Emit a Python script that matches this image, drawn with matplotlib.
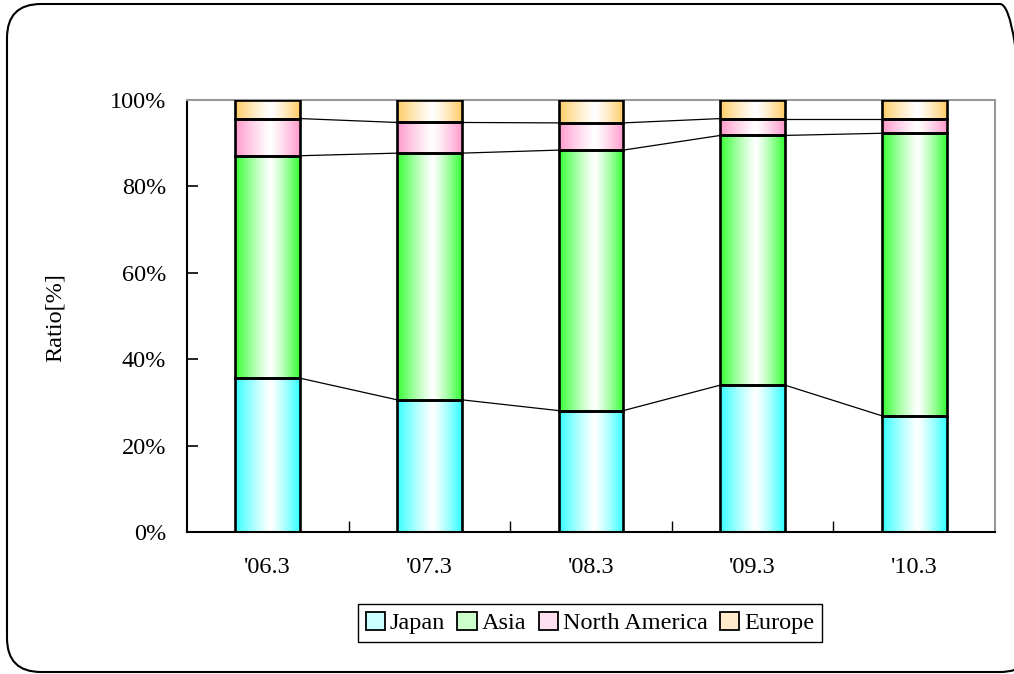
import matplotlib.pyplot as plt
import numpy as np
from matplotlib.patches import Rectangle, FancyBboxPatch
from matplotlib.colors import to_rgb

# --- data (share of sales by region, %)
periods = ["'06.3", "'07.3", "'08.3", "'09.3", "'10.3"]
regions = ["Japan", "Asia", "North America", "Europe"]
japan = [35.6, 30.6, 28.1, 34.0, 26.9]
asia = [51.5, 57.1, 60.3, 57.8, 65.4]
north_america = [8.6, 7.1, 6.3, 3.9, 3.4]
europe = [4.3, 5.2, 5.3, 4.3, 4.3]

colors = ["#33FFFF", "#33FF33", "#FF99CC", "#FFCC66"]
legend_fill = ["#CCFFFF", "#CCFFCC", "#FFE0F0", "#FFEBCC"]

plt.rcParams['font.family'] = ['Liberation Serif', 'DejaVu Serif']
plt.rcParams['font.size'] = 17.5

fig = plt.figure(figsize=(10.14, 6.74), dpi=100)
W, H = 1014, 674

# rounded frame (pixel coords, right edge runs past the image)
frame = FancyBboxPatch((7, 2), 1034 - 7, 671 - 3,
                       boxstyle="round,pad=0,rounding_size=34",
                       transform=None, fill=False,
                       edgecolor='black', linewidth=1.5)
fig.patches.append(frame)

ax = fig.add_axes([187 / W, (H - 532) / H, 808 / W, 432 / H])

series = [japan, asia, north_america, europe]
x = np.arange(len(periods))
bw = 0.40


def gradient_img(c):
    # colour at the edges, white near the middle
    t = np.linspace(0, 1, 200)
    peak = 0.55
    d = np.where(t < peak, (peak - t) / peak, (t - peak) / (1 - peak))
    d = d ** 1.2
    rgb = np.array(to_rgb(c))
    img = 1 - (1 - rgb)[None, :] * d[:, None]
    return img[None, :, :]


bottom = np.zeros(len(periods))
tops = []
for vals, c in zip(series, colors):
    vals = np.array(vals)
    for i in range(len(periods)):
        x0, x1 = x[i] - bw / 2, x[i] + bw / 2
        y0, y1 = bottom[i], bottom[i] + vals[i]
        ax.imshow(gradient_img(c), extent=[x0, x1, y0, y1], aspect='auto',
                  interpolation='bilinear', zorder=2)
        ax.add_patch(Rectangle((x0, y0), bw, vals[i], fill=False,
                               edgecolor='black', linewidth=1.9, zorder=3))
    bottom = bottom + vals
    tops.append(bottom.copy())

# series lines between bars
for t in tops[:-1]:
    for i in range(len(periods) - 1):
        ax.plot([x[i] + bw / 2, x[i + 1] - bw / 2], [t[i], t[i + 1]],
                color='black', linewidth=0.9, zorder=1)

ax.set_xlim(-0.5, len(periods) - 0.5)
ax.set_ylim(0, 100)
ax.set_yticks(range(0, 101, 20))
ax.set_yticklabels([f"{v}%" for v in range(0, 101, 20)])
ax.set_xticks(x)
ax.set_xticklabels(periods)
ax.set_xticks(np.arange(0.5, len(periods) - 0.5, 1), minor=True)
ax.tick_params(axis='x', which='major', length=0, pad=18)
ax.tick_params(axis='x', which='minor', direction='in', length=8, width=1)
ax.tick_params(axis='y', direction='in', length=8, width=1.2, pad=15)

for s in ['left', 'bottom']:
    ax.spines[s].set_color('black')
    ax.spines[s].set_linewidth(1.5)
for s in ['top', 'right']:
    ax.spines[s].set_color('#999999')
    ax.spines[s].set_linewidth(1.5)

fig.text(55 / W, 1 - 318 / H, "Ratio[%]", rotation=90, ha='center', va='center')

handles = [Rectangle((0, 0), 1, 1, facecolor=f, edgecolor='black', linewidth=1.3)
           for f in legend_fill]
fig.legend(handles, regions, loc='center', bbox_to_anchor=(590 / W, 1 - 623 / H),
           ncol=4, fancybox=False, edgecolor='black', framealpha=1,
           handlelength=0.8, handleheight=0.8, handletextpad=0.2,
           columnspacing=0.5, borderpad=0.3, borderaxespad=0)

fig.savefig("out.png", dpi=100)
